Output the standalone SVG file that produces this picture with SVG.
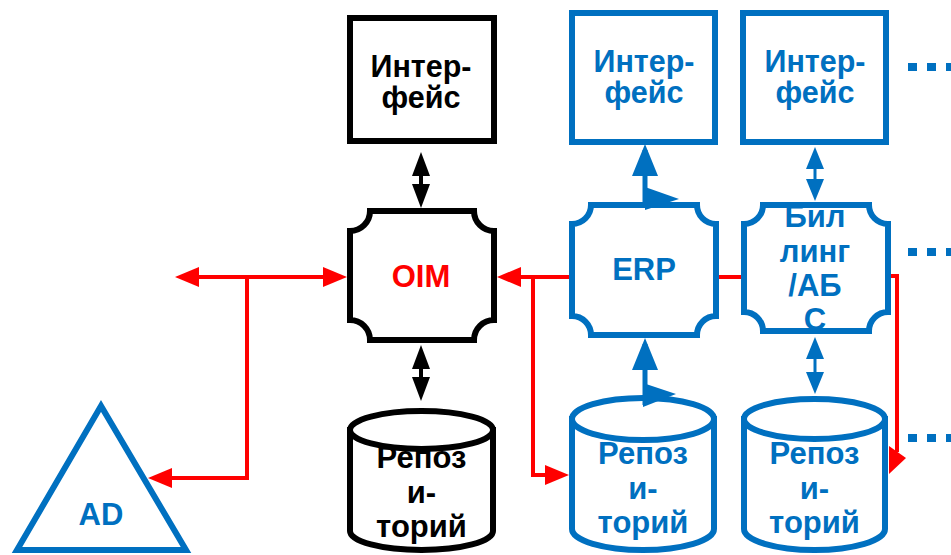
<svg xmlns="http://www.w3.org/2000/svg" xmlns:xlink="http://www.w3.org/1999/xlink" width="951" height="555" viewBox="0 0 951 555">
<style>
.fillw{fill:#fff;stroke:none}
.sk{fill:none;stroke:#000;stroke-width:6}
.sb{fill:none;stroke:#0070C0;stroke-width:6}
.bk{fill:#fff;stroke:#000;stroke-width:6}
.bb{fill:#fff;stroke:#0070C0;stroke-width:6}
.t{font-family:"Liberation Sans",Arial,sans-serif;font-weight:bold;font-size:31px;text-anchor:middle}
.ti{font-size:30.5px}
.tk{fill:#000}.tbl{fill:#0070C0}.tr{fill:#FF0000}
.red{fill:none;stroke:#FF0000;stroke-width:4}
.blk{fill:none;stroke:#000;stroke-width:4}
.blu3{fill:none;stroke:#0070C0;stroke-width:3}
.blu5{fill:none;stroke:#0070C0;stroke-width:5}
.dots{stroke:#0070C0;stroke-width:8;stroke-dasharray:9 10}
</style>
<defs>
<marker id="ar" viewBox="0 0 24 20" refX="18" refY="10" markerWidth="24" markerHeight="20" markerUnits="userSpaceOnUse" orient="auto-start-reverse"><path d="M0,0 L24,10 L0,20 z" fill="#FF0000"/></marker>
<marker id="ak" viewBox="0 0 24 18" refX="18" refY="9" markerWidth="24" markerHeight="18" markerUnits="userSpaceOnUse" orient="auto-start-reverse"><path d="M0,0 L24,9 L0,18 z" fill="#000"/></marker>
<marker id="ab" viewBox="0 0 22 18" refX="16" refY="9" markerWidth="22" markerHeight="18" markerUnits="userSpaceOnUse" orient="auto-start-reverse"><path d="M0,0 L22,9 L0,18 z" fill="#0070C0"/></marker>
<marker id="abig" viewBox="0 0 32 26" refX="26" refY="13" markerWidth="32" markerHeight="26" markerUnits="userSpaceOnUse" orient="auto-start-reverse"><path d="M0,0 L32,13 L0,26 z" fill="#0070C0"/></marker>
<path id="pOIM" d="M370,211 H474 A20,20 0 0 0 494,231 V320 A20,20 0 0 0 474,340 H370 A20,20 0 0 0 350,320 V231 A20,20 0 0 0 370,211 Z"/>
<path id="pERP" d="M591,205 H697 A19,19 0 0 0 716,224 V316 A19,19 0 0 0 697,335 H591 A19,19 0 0 0 572,316 V224 A19,19 0 0 0 591,205 Z"/>
<path id="pBIL" d="M763,205 H869 A19,19 0 0 0 888,224 V312 A19,19 0 0 0 869,331 H763 A19,19 0 0 0 744,312 V224 A19,19 0 0 0 763,205 Z"/>
</defs>

<g id="iface-black">
<rect class="bk" x="350" y="18" width="144" height="123"/>
<text class="t ti tk" x="421" y="77">Интер-</text>
<text class="t ti tk" x="421" y="108">фейс</text>
</g>
<g id="iface-erp">
<rect class="bb" x="572" y="13" width="143" height="129"/>
<text class="t ti tbl" x="644" y="72">Интер-</text>
<text class="t ti tbl" x="644" y="103">фейс</text>
</g>
<g id="iface-billing">
<rect class="bb" x="743" y="13" width="143" height="129"/>
<text class="t ti tbl" x="815" y="72">Интер-</text>
<text class="t ti tbl" x="815" y="103">фейс</text>
</g>

<g id="oim">
<use xlink:href="#pOIM" class="fillw"/>
<text class="t tr" x="421" y="287">OIM</text>
<use xlink:href="#pOIM" class="sk"/>
</g>
<g id="erp">
<use xlink:href="#pERP" class="fillw"/>
<text class="t tbl" x="644" y="280">ERP</text>
<use xlink:href="#pERP" class="sb"/>
</g>
<g id="billing">
<use xlink:href="#pBIL" class="fillw"/>
<text class="t tbl" x="815" y="227">Бил</text>
<text class="t tbl" x="815" y="262">линг</text>
<text class="t tbl" x="815" y="296">/АБ</text>
<text class="t tbl" x="815" y="330">С</text>
<use xlink:href="#pBIL" class="sb"/>
</g>

<g id="repo-black">
<path class="bk" d="M350,430 V531 A71.5,19 0 0 0 493,531 V430 Z"/>
<text class="t tk" x="421.5" y="468">Репоз</text>
<text class="t tk" x="421.5" y="502.5">и-</text>
<text class="t tk" x="421.5" y="537">торий</text>
<ellipse class="bk" cx="421.5" cy="430" rx="71.5" ry="19"/>
</g>
<g id="repo-erp">
<path class="bb" d="M572,419 V529 A71,21 0 0 0 714,529 V419 Z"/>
<text class="t tbl" x="643" y="464">Репоз</text>
<text class="t tbl" x="643" y="498.5">и-</text>
<text class="t tbl" x="643" y="533">торий</text>
<ellipse class="bb" cx="643" cy="419" rx="71" ry="21"/>
</g>
<g id="repo-billing">
<path class="bb" d="M744,419 V529 A70.5,21 0 0 0 885,529 V419 Z"/>
<text class="t tbl" x="814.5" y="464">Репоз</text>
<text class="t tbl" x="814.5" y="498.5">и-</text>
<text class="t tbl" x="814.5" y="533">торий</text>
<ellipse class="bb" cx="814.5" cy="419" rx="70.5" ry="20"/>
</g>

<g id="ad">
<polygon class="bb" points="101,406 17,550 186,550"/>
<text class="t tbl" x="101" y="525">AD</text>
</g>

<g id="connectors">
<path class="red" d="M181,277 H341" marker-start="url(#ar)" marker-end="url(#ar)"/>
<path class="red" d="M247,277 V478 H154" marker-end="url(#ar)"/>
<path class="red" d="M569,277 H503" marker-end="url(#ar)"/>
<path class="red" d="M533,277 V475 H563" marker-end="url(#ar)"/>
<path class="red" d="M719,277 H741"/>
<path class="red" d="M891,276 H897 V452"/>
<polygon points="889,446 906,458 889,474" fill="#FF0000"/>

<path class="blk" d="M421,158 V202" marker-start="url(#ak)" marker-end="url(#ak)"/>
<path class="blk" d="M421,351 V395" marker-start="url(#ak)" marker-end="url(#ak)"/>

<path class="blu3" d="M815,153 V195" marker-start="url(#ab)" marker-end="url(#ab)"/>
<path class="blu3" d="M815,343 V388" marker-start="url(#ab)" marker-end="url(#ab)"/>

<path class="blu5" d="M645,208 V150" marker-end="url(#abig)"/>
<polygon points="645,187 679,199 645,210" fill="#0070C0"/>
<path class="blu5" d="M645,405 V344" marker-end="url(#abig)"/>
<polygon points="643,383 676,394 643,407" fill="#0070C0"/>

<line class="dots" x1="908" y1="67" x2="951" y2="67"/>
<line class="dots" x1="908" y1="252" x2="951" y2="252"/>
<line class="dots" x1="908" y1="438" x2="951" y2="438"/>
</g>
</svg>
